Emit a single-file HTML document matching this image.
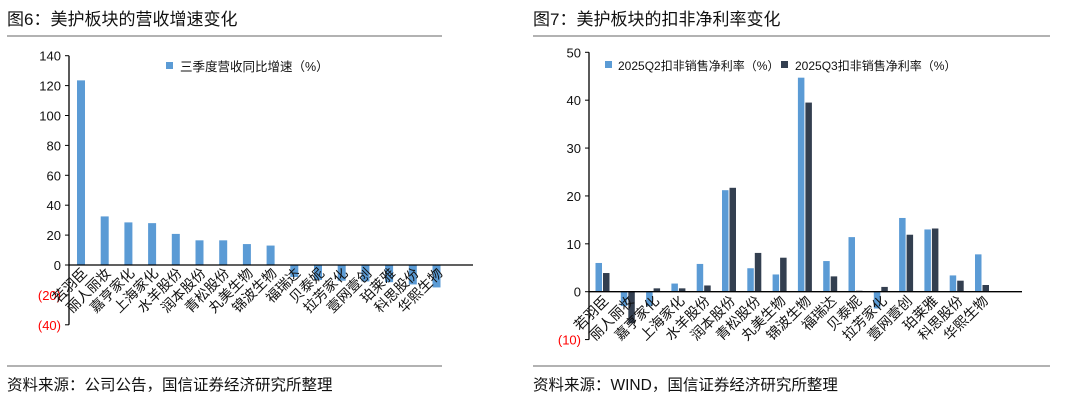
<!DOCTYPE html>
<html><head><meta charset="utf-8"><style>
body{margin:0;background:#fff;width:1080px;height:409px;overflow:hidden}
svg{display:block;font-family:"Liberation Sans","Noto Sans CJK SC",sans-serif}
</style></head><body>
<svg width="1080" height="409" viewBox="0 0 1080 409">
<text x="7" y="25" font-size="17" fill="#111">图6：美护板块的营收增速变化</text>
<text x="533" y="25" font-size="17" fill="#111">图7：美护板块的扣非净利率变化</text>
<line x1="7" y1="36" x2="442" y2="36" stroke="#666" stroke-width="1"/>
<line x1="533" y1="36" x2="1050" y2="36" stroke="#666" stroke-width="1"/>
<line x1="7" y1="366" x2="442" y2="366" stroke="#666" stroke-width="1"/>
<line x1="533" y1="366" x2="1050" y2="366" stroke="#666" stroke-width="1"/>
<text x="7" y="390" font-size="15.5" fill="#111">资料来源：公司公告，国信证券经济研究所整理</text>
<text x="533" y="390" font-size="15.5" fill="#111">资料来源：WIND，国信证券经济研究所整理</text>
<g id="left"></g>
<g id="right"></g>
</svg>
<script>
const leftCats=["若羽臣","丽人丽妆","嘉亨家化","上海家化","水羊股份","润本股份","青松股份","丸美生物","锦波生物","福瑞达","贝泰妮","拉芳家化","壹网壹创","珀莱雅","科思股份","华熙生物"];
const leftVals=[123.5,32.5,28.5,28,20.8,16.5,16.5,14,13,-8,-10,-10.5,-11,-11.5,-13,-15];
const leftTicks=[140,120,100,80,60,40,20,0,-20,-40];
const rightCats=["若羽臣","丽人丽妆","嘉亨家化","上海家化","水羊股份","润本股份","青松股份","丸美生物","锦波生物","福瑞达","贝泰妮","拉芳家化","壹网壹创","珀莱雅","科思股份","华熙生物"];
const q2Vals=[6,-3,-3,1.7,5.8,21.2,4.9,3.6,44.7,6.4,11.4,-3.5,15.4,13,3.4,7.8];
const q3Vals=[3.9,-6.6,0.7,0.7,1.3,21.7,8.1,7.1,39.5,3.2,0.2,1.0,11.9,13.2,2.3,1.4];
const rightTicks=[50,40,30,20,10,0,-10];
const NS="http://www.w3.org/2000/svg";
function mk(p,t,a){const e=document.createElementNS(NS,t);for(const k in a)e.setAttribute(k,a[k]);p.appendChild(e);return e;}
function fmt(v){return v<0?"("+(-v)+")":String(v);}
function axisChart(g,o){
  const y=v=>o.y0+(v)*(o.yTop-o.y0)/o.vmax;
  const x=i=>o.x0+i*o.step;
  const ax=mk(g,'line',{x1:o.ax,y1:y(o.vmax),x2:o.ax,y2:y(o.vmin),stroke:'#000','stroke-width':1.3});
  
  
  o.ticks.forEach(t=>{
    const tl=mk(g,'line',{x1:o.ax-4,y1:y(t),x2:o.ax,y2:y(t),stroke:'#000'});
    
    
    const tx=mk(g,'text',{x:o.ax-8,y:y(t)+5,'font-size':13,'text-anchor':'end',fill:t<0?'#f00':'#111'});
    tx.textContent=fmt(t);
    
    
  });
  return {y,x};
}
(function(){
  const g=document.getElementById('left');
  const o={ax:69,x0:81,step:23.7,y0:265,yTop:55.7,vmax:140,vmin:-40,ticks:leftTicks};
  const {y,x}=axisChart(g,o);
  leftVals.forEach((v,i)=>{
    const r=mk(g,'rect',{x:x(i)-4,y:Math.min(y(v),y(0)),width:8,height:Math.abs(y(v)-y(0)),fill:'#5b9bd5'});
    
    
  });
  const xa=mk(g,'line',{x1:o.ax,y1:y(0),x2:473,y2:y(0),stroke:'#000','stroke-width':1.3});
  
  
  leftCats.forEach((c,i)=>{
    const t=mk(g,'text',{x:x(i)+7,y:y(0)+9,'font-size':14,'text-anchor':'end',fill:'#111',transform:`rotate(-45 ${x(i)+7} ${y(0)+9})`});
    t.textContent=c;
    
    
  });
  const ls=mk(g,'rect',{x:166,y:62,width:7,height:7,fill:'#5b9bd5'});
  
  
  const lt=mk(g,'text',{x:180,y:71,'font-size':12.5,fill:'#111'});
  lt.textContent='三季度营收同比增速（%）';
  
  
})();
(function(){
  const g=document.getElementById('right');
  const o={ax:589,x0:602.5,step:25.3,y0:291.7,yTop:52.3,vmax:50,vmin:-10,ticks:rightTicks};
  const {y,x}=axisChart(g,o);
  rightCats.forEach((c,i)=>{
    const a=mk(g,'rect',{x:x(i)-7,y:Math.min(y(q2Vals[i]),y(0)),width:6.5,height:Math.abs(y(q2Vals[i])-y(0)),fill:'#5b9bd5'});
    
    
    const b=mk(g,'rect',{x:x(i)+0.5,y:Math.min(y(q3Vals[i]),y(0)),width:6.5,height:Math.abs(y(q3Vals[i])-y(0)),fill:'#333f50'});
    
    
  });
  const xa=mk(g,'line',{x1:o.ax,y1:y(0),x2:1022,y2:y(0),stroke:'#000','stroke-width':1.3});
  
  
  rightCats.forEach((c,i)=>{
    const t=mk(g,'text',{x:x(i)+7,y:y(0)+10,'font-size':14,'text-anchor':'end',fill:'#111',transform:`rotate(-45 ${x(i)+7} ${y(0)+10})`});
    t.textContent=c;
    
    
  });
  const s1=mk(g,'rect',{x:605,y:61,width:7,height:7,fill:'#5b9bd5'});
  
  
  const t1=mk(g,'text',{x:618,y:70,'font-size':12,fill:'#111'});
  t1.textContent='2025Q2扣非销售净利率（%）';
  
  
  const s2=mk(g,'rect',{x:781,y:61,width:7,height:7,fill:'#333f50'});
  
  
  const t2=mk(g,'text',{x:795,y:70,'font-size':12,fill:'#111'});
  t2.textContent='2025Q3扣非销售净利率（%）';
  
  
})();
</script>
</body></html>
